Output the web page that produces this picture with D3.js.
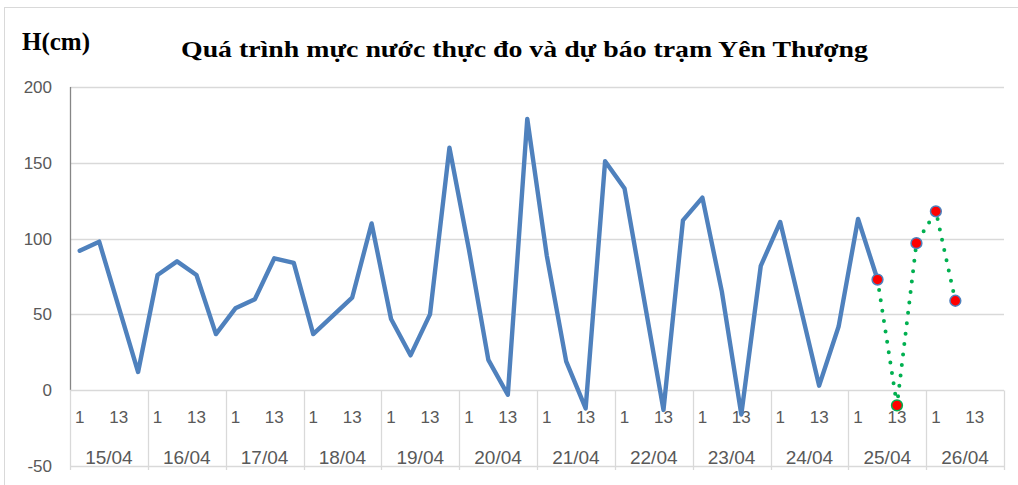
<!DOCTYPE html>
<html>
<head>
<meta charset="utf-8">
<script src="https://cdn.jsdelivr.net/npm/d3@7/dist/d3.min.js"></script>
<style>
  html, body { margin: 0; padding: 0; background: #fff; }
  svg { display: block; }
</style>
</head>
<body>
<svg id="chart" width="1018" height="485"></svg>
<script>
// ---- data ----
const days = ["15/04","16/04","17/04","18/04","19/04","20/04","21/04","22/04","23/04","24/04","25/04","26/04"];
const hours = ["1","7","13","19"];
const observed = [
  92, 98, 55, 12,
  76, 85, 76, 37,
  54, 60, 87, 84,
  37, 49, 61, 110,
  47, 23, 50, 160,
  93, 20, -3, 179,
  89, 19, -12, 151,
  133, 60, -13, 112,
  127, 65, -16, 82,
  111, 57, 3, 42,
  113, 73
];
const forecastStart = 41;
const forecast = [73, -10, 97, 118, 59];
const yTicks = [-50, 0, 50, 100, 150, 200];
const titleText = "Quá trình mực nước thực đo và dự báo trạm Yên Thượng";
const yAxisTitle = "H(cm)";

(function () {
// ---- layout ----
const svg = d3.select("#chart");
const W = 1018, H = 485;
const mLeft = 70, mRight = 1004, mTop = 87, mBottom = 466;

const categories = [];
days.forEach(d => hours.forEach(h => categories.push(d + " " + h)));

const x = d3.scaleBand().domain(d3.range(categories.length)).range([mLeft, mRight]).paddingInner(0).paddingOuter(0);
const y = d3.scaleLinear().domain([-50, 200]).range([mBottom, mTop]);
const dayX = d3.scaleBand().domain(days).range([mLeft, mRight]);

// outer border
svg.append("rect").attr("x", 4.5).attr("y", 7.5).attr("width", W + 10).attr("height", H + 10)
  .attr("fill", "#fff").attr("stroke", "#D9D9D9").attr("stroke-width", 1);

// gridlines
svg.append("g").selectAll("line").data(yTicks.filter(v => v !== 0)).join("line")
  .attr("x1", mLeft).attr("x2", mRight)
  .attr("y1", d => Math.round(y(d)) + 0.5).attr("y2", d => Math.round(y(d)) + 0.5)
  .attr("stroke", "#D9D9D9").attr("stroke-width", 1.3);

// y axis line
svg.append("line").attr("x1", mLeft + 0.5).attr("x2", mLeft + 0.5)
  .attr("y1", y(200)).attr("y2", y(0)).attr("stroke", "#868686").attr("stroke-width", 1.3);

// category axis at 0
const y0 = Math.round(y(0)) + 0.5;
svg.append("line").attr("x1", mLeft).attr("x2", mRight).attr("y1", y0).attr("y2", y0)
  .attr("stroke", "#D9D9D9").attr("stroke-width", 1.3);

// day separators
const seps = d3.range(days.length + 1).map(i => mLeft + i * dayX.bandwidth());
svg.append("g").selectAll("line").data(seps).join("line")
  .attr("x1", d => Math.round(d) + 0.5).attr("x2", d => Math.round(d) + 0.5)
  .attr("y1", y0).attr("y2", 470)
  .attr("stroke", "#D9D9D9").attr("stroke-width", 1.3);

// y tick labels
svg.append("g").selectAll("text").data(yTicks).join("text")
  .attr("x", 52).attr("y", d => y(d) + 6)
  .attr("text-anchor", "end")
  .attr("font-family", "Liberation Sans, Arial, sans-serif")
  .attr("font-size", 17).attr("fill", "#595959")
  .text(d => d);

// hour labels (every other)
svg.append("g").selectAll("text")
  .data(categories.map((c, i) => ({ i, h: hours[i % hours.length] })).filter(d => d.i % 2 === 0))
  .join("text")
  .attr("x", d => x(d.i) + x.bandwidth() / 2)
  .attr("y", 423)
  .attr("text-anchor", "middle")
  .attr("font-family", "Liberation Sans, Arial, sans-serif")
  .attr("font-size", 17).attr("fill", "#595959")
  .text(d => d.h);

// day labels
svg.append("g").selectAll("text").data(days).join("text")
  .attr("x", d => dayX(d) + dayX.bandwidth() / 2)
  .attr("y", 464)
  .attr("text-anchor", "middle")
  .attr("font-family", "Liberation Sans, Arial, sans-serif")
  .attr("font-size", 19).attr("fill", "#595959")
  .text(d => d);

// observed line
const cx = i => x(i) + x.bandwidth() / 2;
const line = d3.line().x(d => cx(d.i)).y(d => y(d.v));
svg.append("path")
  .datum(observed.map((v, i) => ({ i, v })))
  .attr("d", line)
  .attr("fill", "none").attr("stroke", "#4F81BD").attr("stroke-width", 4.4)
  .attr("stroke-linejoin", "round").attr("stroke-linecap", "round");

// forecast dotted line
const fc = forecast.map((v, k) => ({ i: forecastStart + k, v }));
svg.append("path")
  .datum(fc)
  .attr("d", line)
  .attr("fill", "none").attr("stroke", "#00B050").attr("stroke-width", 4)
  .attr("stroke-dasharray", "0 10.5").attr("stroke-linecap", "round");

// forecast markers
svg.append("g").selectAll("circle").data(fc).join("circle")
  .attr("cx", d => cx(d.i)).attr("cy", d => y(d.v)).attr("r", 5.4)
  .attr("fill", "#FF0000")
  .attr("stroke", (d, k) => k === 1 ? "#00B050" : "#4F81BD")
  .attr("stroke-width", 1.5);

// titles
svg.append("text").attr("x", 181).attr("y", 57)
  .attr("font-family", "Liberation Serif, Times New Roman, serif")
  .attr("font-weight", "bold").attr("font-size", 24).attr("fill", "#000")
  .attr("textLength", 687).attr("lengthAdjust", "spacingAndGlyphs")
  .text(titleText);

svg.append("text").attr("x", 22).attr("y", 50)
  .attr("font-family", "Liberation Serif, Times New Roman, serif")
  .attr("font-weight", "bold").attr("font-size", 25).attr("fill", "#000")
  .text(yAxisTitle);
})();
</script>
</body>
</html>
